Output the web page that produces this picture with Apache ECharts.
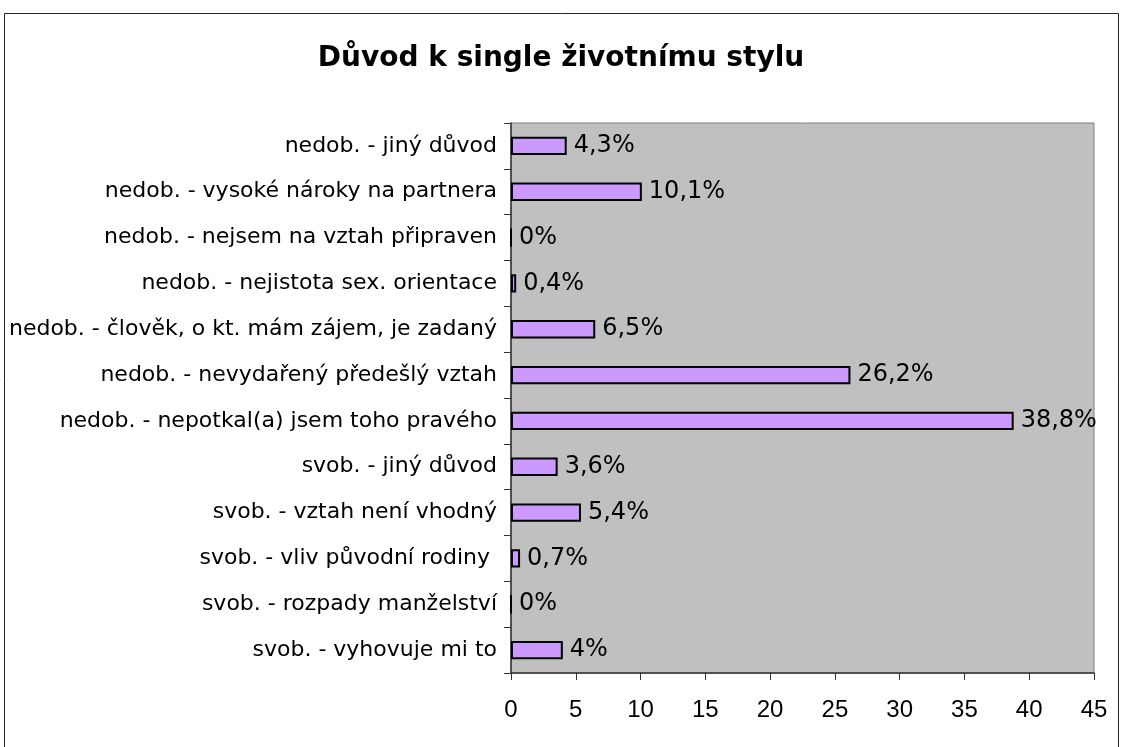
<!DOCTYPE html>
<html>
<head>
<meta charset="utf-8">
<script src="https://cdn.jsdelivr.net/npm/echarts@6/dist/echarts.min.js"></script>
<style>
  html, body { margin: 0; padding: 0; background: #fff; }
  #chart { width: 1122px; height: 747px; }
</style>
</head>
<body>
<div id="chart"></div>
<script>
// categories from bottom to top
var categories = [
    'svob. - vyhovuje mi to',
    'svob. - rozpady manželství',
    'svob. - vliv původní rodiny ',
    'svob. - vztah není vhodný',
    'svob. - jiný důvod',
    'nedob. - nepotkal(a) jsem toho pravého',
    'nedob. - nevydařený předešlý vztah',
    'nedob. - člověk, o kt. mám zájem, je zadaný',
    'nedob. - nejistota sex. orientace',
    'nedob. - nejsem na vztah připraven',
    'nedob. - vysoké nároky na partnera',
    'nedob. - jiný důvod'
];
var values = [4, 0, 0.7, 5.4, 3.6, 38.8, 26.2, 6.5, 0.4, 0, 10.1, 4.3];
var xTicks = [0, 45, 5]; // min, max, step

var chart = echarts.init(document.getElementById('chart'));
var option = {
    animation: false,
    title: {
        text: 'Důvod k single životnímu stylu',
        left: 'center',
        top: 40,
        textStyle: {
            fontFamily: 'DejaVu Sans',
            fontSize: 28,
            fontWeight: 'bold',
            color: '#000'
        }
    },
    graphic: [{
        type: 'rect',
        shape: { x: 4.5, y: 13.5, width: 1114, height: 760 },
        style: { fill: 'none', stroke: '#222', lineWidth: 1 },
        silent: true
    }],
    grid: {
        left: 511,
        right: 28,
        top: 123,
        bottom: 74,
        show: true,
        backgroundColor: '#c0c0c0',
        borderColor: '#808080',
        borderWidth: 1
    },
    xAxis: {
        type: 'value',
        min: xTicks[0],
        max: xTicks[1],
        interval: xTicks[2],
        splitLine: { show: false },
        axisLine: { show: true, lineStyle: { color: '#333', width: 1.5 } },
        axisTick: { show: true, length: 7, lineStyle: { color: '#333' } },
        axisLabel: {
            fontFamily: 'Liberation Sans',
            fontSize: 24,
            color: '#000',
            margin: 25
        }
    },
    yAxis: {
        type: 'category',
        data: categories,
        axisLine: { show: true, lineStyle: { color: '#333', width: 1.5 } },
        axisTick: { show: true, length: 7, lineStyle: { color: '#333' } },
        axisLabel: {
            fontFamily: 'DejaVu Sans',
            fontSize: 22,
            color: '#000',
            margin: 14
        }
    },
    series: [{
        type: 'bar',
        data: values,
        barCategoryGap: '60%',
        itemStyle: {
            color: '#cc99ff',
            borderColor: '#000',
            borderWidth: 2
        },
        label: {
            show: true,
            position: 'right',
            distance: 7,
            fontFamily: 'DejaVu Sans',
            fontSize: 24,
            color: '#000',
            formatter: function (p) {
                return String(p.value).replace('.', ',') + '%';
            }
        }
    }]
};
chart.setOption(option);
</script>
</body>
</html>
